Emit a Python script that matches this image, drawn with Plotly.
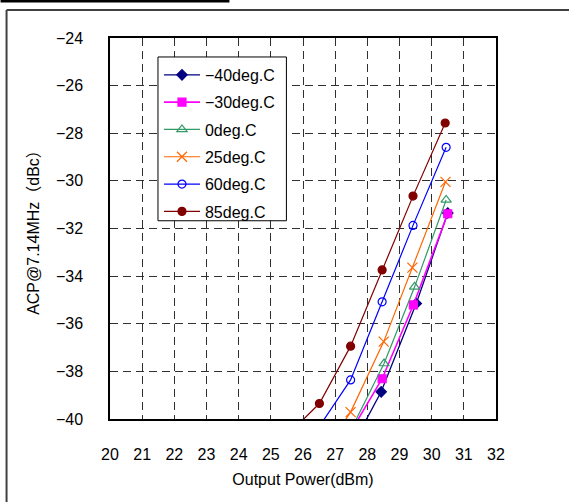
import plotly.graph_objects as go

# ---- data ----
series_names = ["−40deg.C", "−30deg.C", "0deg.C", "25deg.C", "60deg.C", "85deg.C"]

x_m40 = [27.5, 28.43, 29.52, 30.50]
y_m40 = [-41.2, -38.86, -35.15, -31.35]

x_m30 = [27.5, 28.46, 29.43, 30.50]
y_m30 = [-40.5, -38.31, -35.21, -31.38]

x_0 = [27.5, 28.52, 29.47, 30.45]
y_0 = [-40.43, -37.67, -34.45, -30.80]

x_25 = [26.5, 27.48, 28.51, 29.40, 30.43]
y_25 = [-41.7, -39.71, -36.75, -33.64, -30.04]

x_60 = [26.5, 27.48, 28.46, 29.42, 30.45]
y_60 = [-40.33, -38.36, -35.08, -31.87, -28.59]

x_85 = [25.5, 26.51, 27.48, 28.46, 29.42, 30.42]
y_85 = [-40.7, -39.35, -36.94, -33.74, -30.64, -27.57]

x_ticks = list(range(20, 33))
y_ticks = list(range(-40, -23, 2))

# ---- styles ----
colors = ["#000080", "#FF00FF", "#339966", "#FF6600", "#0000FF", "#800000"]
symbols = ["diamond", "square", "triangle-up-open", "x-thin-open", "circle-open", "circle"]
msizes = [8, 8, 9, 10, 8, 8]
lwidths = [1.3, 1.6, 1.2, 1.2, 1.2, 1.2]
xs = [x_m40, x_m30, x_0, x_25, x_60, x_85]
ys = [y_m40, y_m30, y_0, y_25, y_60, y_85]

FONT = "Liberation Sans, Noto Sans CJK JP, sans-serif"

fig = go.Figure()
for i, name in enumerate(series_names):
    fig.add_trace(go.Scatter(
        x=xs[i], y=ys[i], name=name, mode="lines+markers",
        legendgroup=name,
        line=dict(color=colors[i], width=lwidths[i]),
        marker=dict(symbol=symbols[i], size=msizes[i], color=colors[i],
                    line=dict(color=colors[i], width=1.2)),
    ))

W, H = 569, 502
L, R, T, B = 109.5, 495.7, 38.0, 419.5
pw, ph = R - L, B - T

def px(x):
    return (x - L) / pw

def py(y):
    return (B - y) / ph

shapes = [
    # outer frame (top and left edges)
    dict(type="line", xref="paper", yref="paper", x0=px(6), x1=px(572), y0=py(10), y1=py(10),
         line=dict(color="#404040", width=2)),
    dict(type="line", xref="paper", yref="paper", x0=px(6), x1=px(6), y0=py(10), y1=py(505),
         line=dict(color="#404040", width=2)),
    # black bar top-left
    dict(type="line", xref="paper", yref="paper", x0=px(0), x1=px(229), y0=py(1), y1=py(1),
         line=dict(color="#000000", width=3)),
    # legend box
    dict(type="rect", xref="paper", yref="paper", layer="above",
         x0=px(157.5), x1=px(286), y0=py(57), y1=py(221),
         fillcolor="white", line=dict(color="#000", width=1)),
]

fig.update_layout(
    width=W, height=H,
    margin=dict(l=L, r=W - R, t=T, b=H - B, pad=0),
    paper_bgcolor="white", plot_bgcolor="white",
    font=dict(family=FONT, size=16, color="#000"),
    showlegend=True,
    legend=dict(
        x=px(158.5), y=py(58), xanchor="left", yanchor="top",
        bgcolor="rgba(0,0,0,0)", borderwidth=0,
        font=dict(family=FONT, size=16, color="#000"),
        traceorder="grouped", tracegroupgap=3.5, itemwidth=36,
    ),
    shapes=shapes,
)

fig.update_xaxes(
    range=[20, 32], tickvals=x_ticks, ticktext=[str(v) for v in x_ticks],
    showgrid=True, gridcolor="#303030", gridwidth=1, griddash="8px,5px",
    showline=True, linecolor="#000", linewidth=1.5, mirror=True,
    ticks="", ticklabelstandoff=20, zeroline=False,
    title=dict(text="Output Power(dBm)", standoff=12, font=dict(size=16)),
)
fig.update_yaxes(
    range=[-40, -24], tickvals=y_ticks, ticktext=["−" + str(abs(v)) for v in y_ticks],
    showgrid=True, gridcolor="#303030", gridwidth=1, griddash="8px,5px",
    showline=True, linecolor="#000", linewidth=1.5, mirror=True,
    ticks="", ticklabelstandoff=22, zeroline=False,
    title=dict(text="ACP@7.14MHz（dBc）", standoff=12, font=dict(size=16)),
)

fig.write_html("out.html", config={"displayModeBar": False},
               post_script="document.body.style.margin='0';document.body.style.overflow='hidden';")
